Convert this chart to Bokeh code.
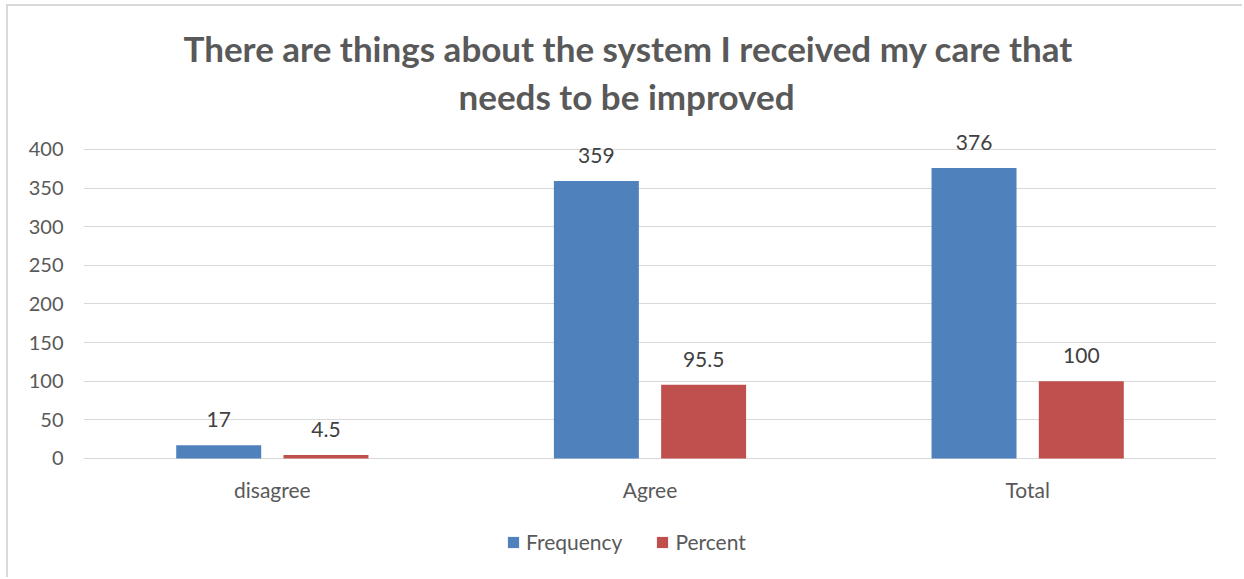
from bokeh.plotting import figure
from bokeh.models import (ColumnDataSource, FactorRange, Range1d, Legend, LegendItem, Title,
                          LabelSet, FixedTicker)
from bokeh.core.properties import value
from bokeh.transform import dodge
from bokeh.embed import file_html
from bokeh.resources import INLINE

categories = ["disagree", "Agree", "Total"]
frequency = [17, 359, 376]
percent = [4.5, 95.5, 100]
freq_labels = ["17", "359", "376"]
pct_labels = ["4.5", "95.5", "100"]
y_ticks = [0, 50, 100, 150, 200, 250, 300, 350, 400]
title_lines = ["There are things about the system I received my care that", "needs to be improved"]

BLUE = "#4F81BD"
RED = "#C0504D"
FONT = "Lato"

src = ColumnDataSource(dict(cat=categories, freq=frequency, pct=percent,
                            fl=freq_labels, pl=pct_labels, base=[0] * len(categories)))

# frame spans from just above the 400 gridline down to the bottom edge,
# so the category labels and the legend can sit inside it
p = figure(x_range=FactorRange(*categories, range_padding=0), y_range=Range1d(-156.6, 440),
           width=1236, height=573, output_backend="svg", toolbar_location=None,
           x_axis_location=None,
           min_border_left=75, min_border_right=28, min_border_top=112, min_border_bottom=0,
           styles={"margin-left": "6px", "margin-top": "4px",
                   "border-left": "2px solid #d9d9d9", "border-top": "2px solid #d9d9d9"})

r1 = p.vbar(x=dodge("cat", -0.142, range=p.x_range), top="freq", width=0.225, source=src,
            fill_color=BLUE, line_color=None)
r2 = p.vbar(x=dodge("cat", 0.142, range=p.x_range), top="pct", width=0.225, source=src,
            fill_color=RED, line_color=None)

for xo, ycol, tcol in [(-0.142, "freq", "fl"), (0.142, "pct", "pl")]:
    lbl = LabelSet(x=dodge("cat", xo, range=p.x_range), y=ycol, text=tcol, source=src,
                   text_align="center", text_baseline="bottom", y_offset=18,
                   text_font=value(FONT), text_font_size=value("21px"), text_color="#404040")
    p.add_layout(lbl)

# category labels under the baseline
cat_lbl = LabelSet(x="cat", y="base", text="cat", source=src,
                   text_align="center", text_baseline="middle", y_offset=-31,
                   text_font=value(FONT), text_font_size=value("21px"), text_color="#595959")
p.add_layout(cat_lbl)

p.outline_line_color = None
p.xgrid.grid_line_color = None
p.ygrid.grid_line_color = "#d9d9d9"
p.ygrid.grid_line_width = 1
p.yaxis.ticker = FixedTicker(ticks=y_ticks)
p.ygrid.ticker = FixedTicker(ticks=y_ticks)
ax = p.yaxis[0]
ax.axis_line_color = None
ax.major_tick_line_color = None
ax.minor_tick_line_color = None
ax.major_label_text_font = FONT
ax.major_label_text_color = "#595959"
ax.major_label_text_font_size = "20px"
ax.major_label_standoff = 14

legend = Legend(items=[LegendItem(label="Frequency", renderers=[r1]),
                       LegendItem(label="Percent", renderers=[r2])],
                orientation="horizontal", location=(423, 25),
                label_text_font=FONT, label_text_font_size="21px", label_text_color="#595959",
                glyph_width=14, glyph_height=14, spacing=33, label_standoff=6,
                border_line_color=None, background_fill_alpha=0, margin=0, padding=0)
p.add_layout(legend, "center")

offsets = [100, 375]
for line, off in reversed(list(zip(title_lines, offsets))):
    t = Title(text=line, align="left", offset=off, text_font=FONT, text_font_size="35px",
              text_font_style="bold", text_color="#595959", standoff=4)
    p.add_layout(t, "above")

open("out.html", "w").write(file_html(p, INLINE))
